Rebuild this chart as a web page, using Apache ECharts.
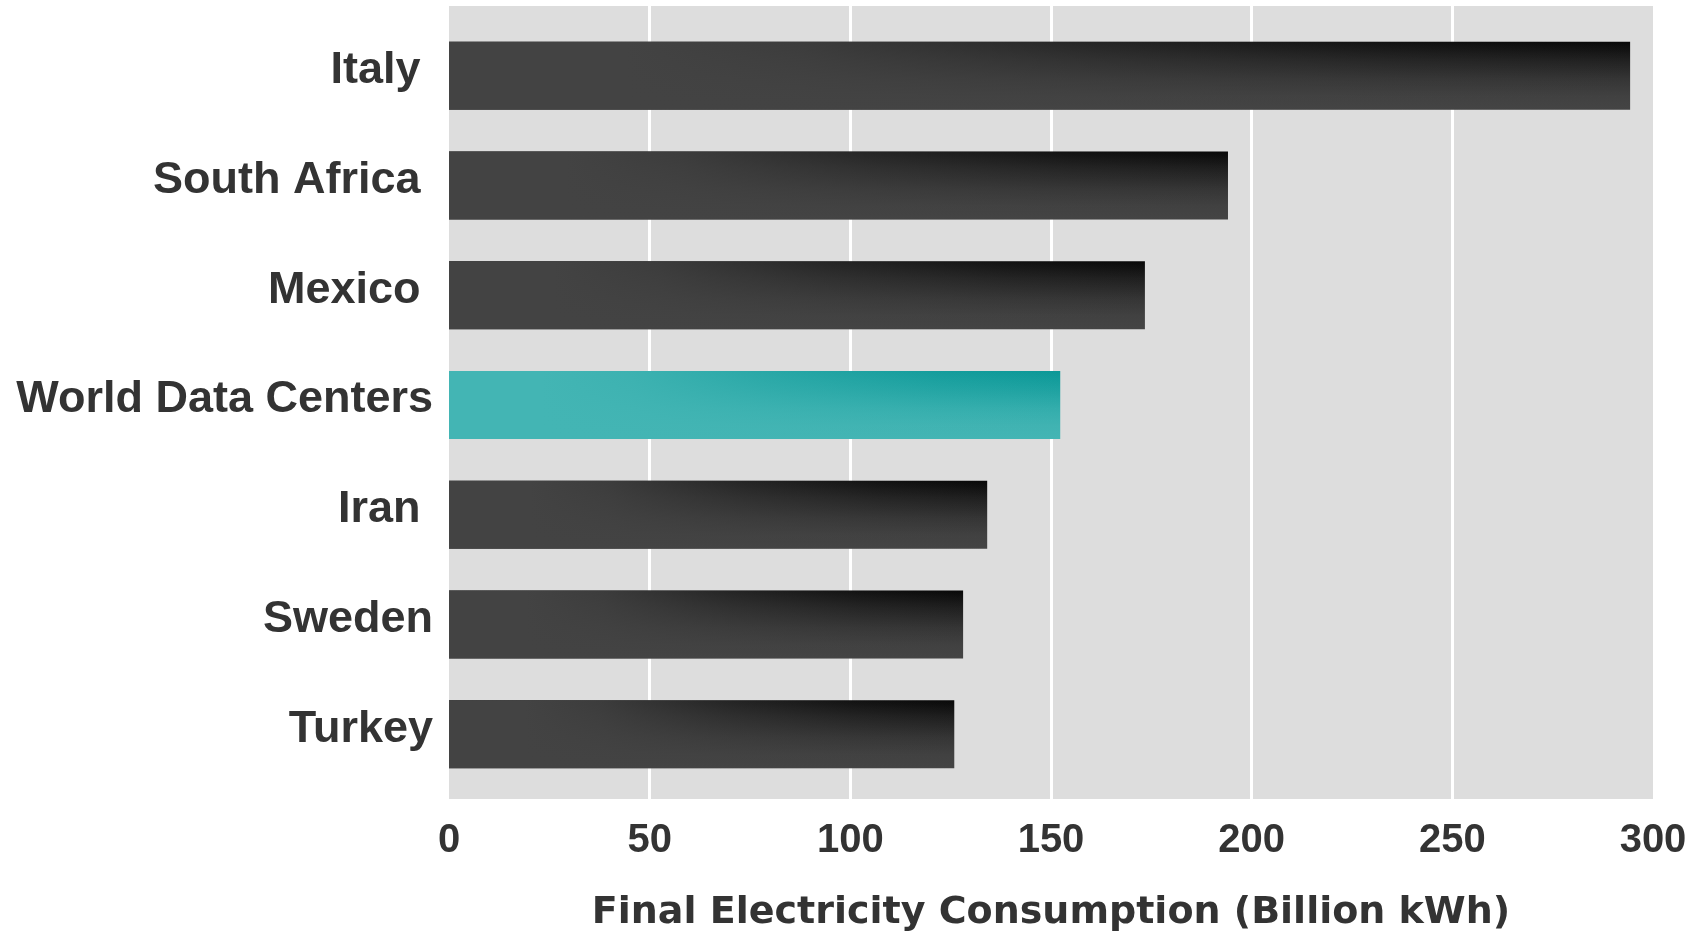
<!DOCTYPE html>
<html>
<head>
<meta charset="utf-8">
<script src="https://cdn.jsdelivr.net/npm/echarts@6/dist/echarts.min.js"></script>
<style>
html,body{margin:0;padding:0;background:#fff;}
#chart{width:1705px;height:937px;}
</style>
</head>
<body>
<div id="chart"></div>
<script>
// ---- data ----
const categories = ['Italy ', 'South Africa ', 'Mexico ', 'World Data Centers', 'Iran ', 'Sweden', 'Turkey'];
const consumption = [294.3, 194.1, 173.4, 152.3, 134.1, 128.1, 125.9];
const highlighted = ['World Data Centers'];
const xTicks = [0, 50, 100, 150, 200, 250, 300];
const xTitle = 'Final Electricity Consumption (Billion kWh)';

const FONT = "'Liberation Sans', Arial, Helvetica, sans-serif";
const TITLE_FONT = "'DejaVu Sans', 'Liberation Sans', sans-serif";

function baseGradient(isHi) {
  const stops = isHi
    ? [[0, '#0b9897'], [0.25, '#1ca1a0'], [0.55, '#33adac'], [0.8, '#40b3b2'], [1, '#44b5b4']]
    : [[0, '#080808'], [0.25, '#1f1f1f'], [0.55, '#353535'], [0.8, '#414141'], [1, '#444444']];
  return new echarts.graphic.LinearGradient(0, 0, 0, 1, stops.map(s => ({offset: s[0], color: s[1]})));
}
function overlayGradient(isHi) {
  const rgb = isHi ? '67,181,180' : '67,67,67';
  const a = [[0, 1], [0.15, 1], [0.3, 0.88], [0.55, 0.48], [0.8, 0.16], [1, 0]];
  return new echarts.graphic.LinearGradient(0, 0, 1, 0, a.map(s => ({offset: s[0], color: 'rgba(' + rgb + ',' + s[1] + ')'})));
}

const baseData = consumption.map((v, i) => ({
  value: v,
  itemStyle: {color: baseGradient(highlighted.includes(categories[i]))}
}));
const overlayData = consumption.map((v, i) => ({
  value: v,
  itemStyle: {color: overlayGradient(highlighted.includes(categories[i]))}
}));

const chart = echarts.init(document.getElementById('chart'), null, {renderer: 'canvas'});
chart.setOption({
  animation: false,
  backgroundColor: '#ffffff',
  grid: [
    {left: 449, top: 6, width: 1204, height: 797, show: true, backgroundColor: '#DDDDDD', borderWidth: 0},
    {left: 449, top: 21, width: 1204, height: 768}
  ],
  xAxis: [
    {
      type: 'value', gridIndex: 0, min: xTicks[0], max: xTicks[xTicks.length - 1], interval: 50,
      axisLine: {show: false}, axisTick: {show: false},
      splitLine: {show: true, showMinLine: false, showMaxLine: false, lineStyle: {color: '#ffffff', width: 3}},
      axisLabel: {fontFamily: FONT, fontWeight: 'bold', fontSize: 40, color: '#333333', margin: 22},
      name: xTitle, nameLocation: 'middle', nameGap: 95,
      nameTextStyle: {fontFamily: TITLE_FONT, fontWeight: 'bold', fontSize: 38, color: '#333333'}
    },
    {
      type: 'value', gridIndex: 1, min: xTicks[0], max: xTicks[xTicks.length - 1], show: false
    }
  ],
  yAxis: [
    {type: 'value', gridIndex: 0, show: false, min: 0, max: 1},
    {
      type: 'category', gridIndex: 1, data: categories, inverse: true,
      axisLine: {show: false}, axisTick: {show: false}, splitLine: {show: false},
      axisLabel: {fontFamily: FONT, fontWeight: 'bold', fontSize: 45, color: '#333333', margin: 16,
                  verticalAlign: 'bottom', lineHeight: 10}
    }
  ],
  series: [
    {type: 'bar', xAxisIndex: 1, yAxisIndex: 1, data: baseData, barWidth: 68, barGap: '-100%', silent: true},
    {type: 'bar', xAxisIndex: 1, yAxisIndex: 1, data: overlayData, barWidth: 68, barGap: '-100%', silent: true}
  ]
});
</script>
</body>
</html>
